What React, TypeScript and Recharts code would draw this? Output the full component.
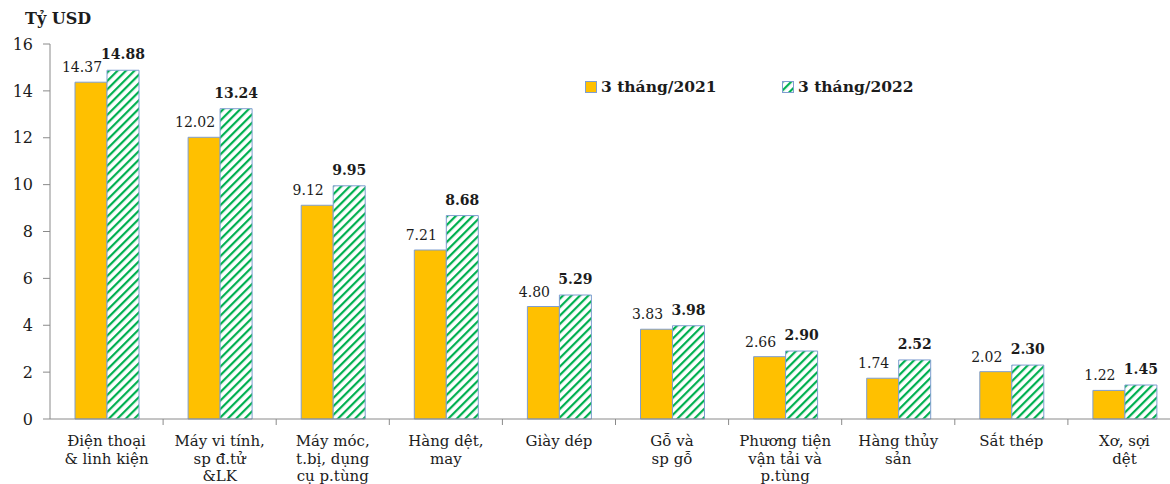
import React from "react";
import { BarChart, Bar, XAxis, YAxis, LabelList, Legend } from "recharts";

// Nhóm hàng xuất khẩu chủ lực (tỷ USD)
const categories = [
	"Điện thoại\n& linh kiện",
	"Máy vi tính,\nsp  đ.tử\n&LK",
	"Máy móc,\nt.bị, dụng\ncụ p.tùng",
	"Hàng dệt,\nmay",
	"Giày dép",
	"Gỗ và\nsp  gỗ",
	"Phương tiện\nvận tải và\np.tùng",
	"Hàng thủy\nsản",
	"Sắt thép",
	"Xơ, sợi\ndệt",
];
const values2021 = [14.37, 12.02, 9.12, 7.21, 4.8, 3.83, 2.66, 1.74, 2.02, 1.22];
const values2022 = [14.88, 13.24, 9.95, 8.68, 5.29, 3.98, 2.9, 2.52, 2.3, 1.45];
const yTicks = [0, 2, 4, 6, 8, 10, 12, 14, 16];
const seriesNames = ["3 tháng/2021", "3 tháng/2022"];

const FONT = "'DejaVu Serif', serif";
const TEXT = "#1c1c1c";
const ORANGE = "#FFC000";
const GREEN = "#00B050";
const EDGE = "#7F9ED0";
const AXIS = "#8A8A8A";

const CHART_W = 1181;
const CHART_H = 484;
const Y_AXIS_W = 50;
const PLOT_BOTTOM = 419;
const BAND = (CHART_W - Y_AXIS_W) / categories.length;

const chartData = categories.map((name, i) => ({
	name,
	v2021: values2021[i],
	v2022: values2022[i],
}));

const CategoryTick = (props: any) => {
	const { x, payload, index } = props;
	const lines = String(payload.value).split("\n");
	return (
		<g>
			{index < categories.length - 1 && (
				<line
					x1={x + BAND / 2}
					x2={x + BAND / 2}
					y1={PLOT_BOTTOM}
					y2={PLOT_BOTTOM + 6}
					stroke={AXIS}
				/>
			)}
			<text
				x={x}
				y={446}
				textAnchor="middle"
				fontFamily={FONT}
				fontSize={15}
				fill={TEXT}>
				{lines.map((l, i) => (
					<tspan key={i} x={x} dy={i === 0 ? 0 : 17.5}>
						{l}
					</tspan>
				))}
			</text>
		</g>
	);
};

const label2021 = (props: any) => {
	const { x, y, width, value } = props;
	return (
		<text
			x={x + width / 2 - 9}
			y={y - 10}
			textAnchor="middle"
			fontFamily={FONT}
			fontSize={14}
			fill={TEXT}>
			{Number(value).toFixed(2)}
		</text>
	);
};

const label2022 = (props: any) => {
	const { x, y, width, value } = props;
	return (
		<text
			x={x + width / 2}
			y={y - 11}
			textAnchor="middle"
			fontFamily={FONT}
			fontSize={14}
			fontWeight="bold"
			fill={TEXT}>
			{Number(value).toFixed(2)}
		</text>
	);
};

const LegendBox = () => (
	<div style={{ position: "relative", width: 340, height: 16 }}>
		{seriesNames.map((s, i) => (
			<div
				key={s}
				style={{
					position: "absolute",
					left: i === 0 ? 0 : 197,
					top: 0,
					display: "flex",
					alignItems: "center",
					whiteSpace: "nowrap",
				}}>
				<svg width={12} height={12} style={{ marginRight: 4 }}>
					<rect
						x={0.5}
						y={0.5}
						width={11}
						height={11}
						fill={i === 0 ? ORANGE : "url(#hatchGreen)"}
						stroke={EDGE}
					/>
				</svg>
				<span
					style={{
						fontFamily: FONT,
						fontWeight: "bold",
						fontSize: 15.5,
						color: TEXT,
						lineHeight: "16px",
					}}>
					{s}
				</span>
			</div>
		))}
	</div>
);

export default function App() {
	return (
		<div
			style={{
				position: "absolute",
				left: 0,
				top: 0,
				width: 1170,
				height: 484,
				overflow: "hidden",
				background: "#fff",
			}}>
			<div
				style={{
					position: "absolute",
					left: 25,
					top: 9,
					fontFamily: FONT,
					fontWeight: "bold",
					fontSize: 16,
					color: TEXT,
				}}>
				Tỷ USD
			</div>
			<BarChart
				width={CHART_W}
				height={CHART_H}
				data={chartData}
				barGap={0}
				barSize={32}
				margin={{ top: 44, right: 0, bottom: 5, left: 0 }}>
				<defs>
					<pattern
						id="hatchGreen"
						patternUnits="userSpaceOnUse"
						width={6}
						height={6}
						patternTransform="rotate(45)">
						<rect width={6} height={6} fill="#fff" />
						<rect x={0} y={0} width={2.2} height={6} fill={GREEN} />
					</pattern>
				</defs>
				<XAxis
					dataKey="name"
					height={60}
					interval={0}
					tickLine={false}
					axisLine={{ stroke: AXIS }}
					tick={<CategoryTick />}
				/>
				<YAxis
					width={Y_AXIS_W}
					domain={[0, 16]}
					ticks={yTicks}
					interval={0}
					tickSize={7}
					tickMargin={10}
					axisLine={{ stroke: AXIS }}
					tickLine={{ stroke: AXIS }}
					tick={{ fontFamily: FONT, fontSize: 16, fill: TEXT }}
				/>
				<Legend
					layout="vertical"
					verticalAlign="middle"
					align="center"
					content={<LegendBox />}
					wrapperStyle={{ left: 585, top: 79, width: 340 }}
				/>
				<Bar
					dataKey="v2021"
					name={seriesNames[0]}
					fill={ORANGE}
					stroke={EDGE}
					strokeWidth={1}
					isAnimationActive={false}>
					<LabelList dataKey="v2021" content={label2021} />
				</Bar>
				<Bar
					dataKey="v2022"
					name={seriesNames[1]}
					fill="url(#hatchGreen)"
					stroke={EDGE}
					strokeWidth={1}
					isAnimationActive={false}>
					<LabelList dataKey="v2022" content={label2022} />
				</Bar>
			</BarChart>
		</div>
	);
}
